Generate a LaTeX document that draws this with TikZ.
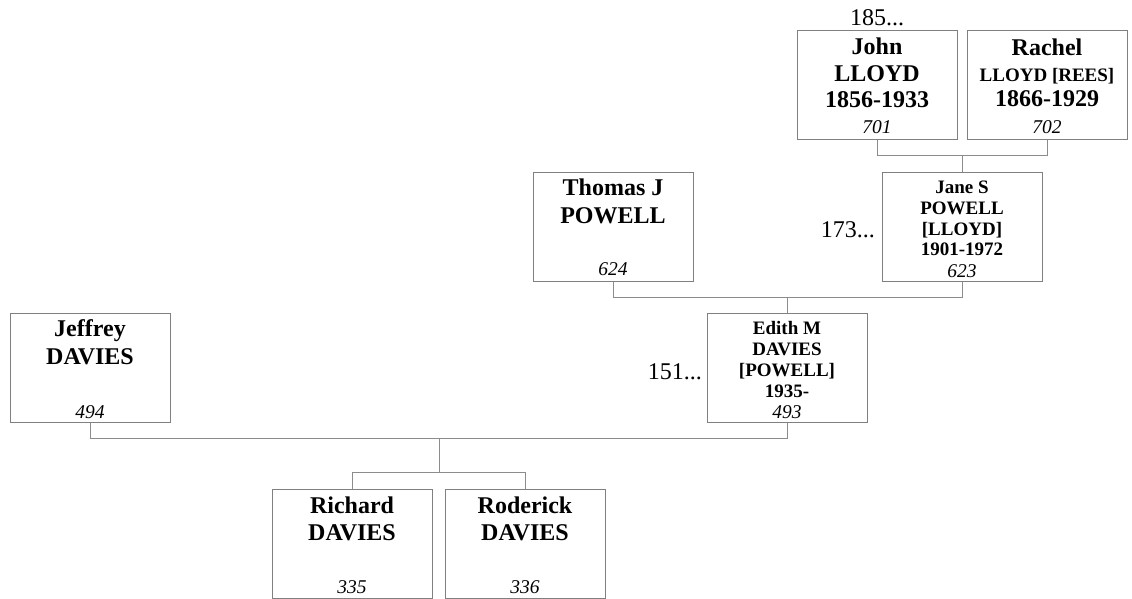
\documentclass[tikz,border=0pt]{standalone}
\usepackage{fontspec}
\setmainfont{Liberation Serif}
\definecolor{boxgray}{RGB}{128,128,128}
\definecolor{linegray}{RGB}{140,140,140}
\newcommand{\tline}[5]{\node[#4,anchor=base,inner sep=0pt] (#1) at (#2,#3) {#5};}
\tikzset{
  person/.style={draw=boxgray,line width=1pt,minimum width=160pt,minimum height=109pt,inner sep=0pt},
  bA/.style={font=\fontsize{24}{28}\selectfont\bfseries},
  bB/.style={font=\fontsize{19}{22}\selectfont\bfseries},
  num/.style={font=\fontsize{19.5}{22}\selectfont\itshape},
  lab/.style={font=\fontsize{24}{28}\selectfont},
  conn/.style={draw=linegray,line width=1pt}
}
\begin{document}
\begin{tikzpicture}[x=1pt,y=-1pt]
\useasboundingbox (0,0) rectangle (1132,599);
% boxes
\node[person] (john) at (877,85.5) {};
\node[person] (rachel) at (1047,85.5) {};
\node[person] (thomas) at (613,226.5) {};
\node[person] (jane) at (962,226.5) {};
\node[person] (jeffrey) at (90,368) {};
\node[person] (edith) at (787,368) {};
\node[person] (richard) at (352,543.5) {};
\node[person] (roderick) at (525,543.5) {};
% John
\tline{john1}{877}{55}{bA}{John}
\tline{john2}{877}{82}{bA}{LLOYD}
\tline{john3}{877}{108}{bA}{1856-1933}
\tline{john4}{877}{134}{num}{701}
\tline{johnlab}{877}{26}{lab}{185...}
% Rachel
\tline{rachel1}{1047}{56}{bA}{Rachel}
\tline{rachel2}{1047}{82}{bB}{LLOYD [REES]}
\tline{rachel3}{1047}{107}{bA}{1866-1929}
\tline{rachel4}{1047}{134}{num}{702}
% Thomas
\tline{thomas1}{613}{195}{bA}{Thomas J}
\tline{thomas2}{613}{223}{bA}{POWELL}
\tline{thomas3}{613}{275}{num}{624}
% Jane
\tline{jane1}{962}{193}{bB}{Jane S}
\tline{jane2}{962}{214}{bB}{POWELL}
\tline{jane3}{962}{235}{bB}{[LLOYD]}
\tline{jane4}{962}{255}{bB}{1901-1972}
\tline{jane5}{962}{277}{num}{623}
\node[lab,anchor=base east,inner sep=0pt] (janelab) at (875,237) {173...};
% Jeffrey
\tline{jeff1}{90}{336}{bA}{Jeffrey}
\tline{jeff2}{90}{364}{bA}{DAVIES}
\tline{jeff3}{90}{418}{num}{494}
% Edith
\tline{edith1}{787}{334}{bB}{Edith M}
\tline{edith2}{787}{355}{bB}{DAVIES}
\tline{edith3}{787}{376}{bB}{[POWELL]}
\tline{edith4}{787}{397}{bB}{1935-}
\tline{edith5}{787}{418}{num}{493}
\node[lab,anchor=base east,inner sep=0pt] (edithlab) at (702,379) {151...};
% Richard
\tline{rich1}{352}{513}{bA}{Richard}
\tline{rich2}{352}{540}{bA}{DAVIES}
\tline{rich3}{352}{593}{num}{335}
% Roderick
\tline{rod1}{525}{513}{bA}{Roderick}
\tline{rod2}{525}{540}{bA}{DAVIES}
\tline{rod3}{525}{593}{num}{336}
% connectors
\coordinate (m1) at (962,155);
\coordinate (m2) at (787,297);
\coordinate (m3) at (439,438);
\coordinate (m4) at (439,473);
\draw[conn] (john.south) -- ++(0,15) -| (rachel.south);
\draw[conn] (m1) -- (jane.north);
\draw[conn] (thomas.south) -- ++(0,16) -| (jane.south);
\draw[conn] (m2) -- (edith.north);
\draw[conn] (jeffrey.south) -- ++(0,15) -| (edith.south);
\draw[conn] (m3) -- (m4);
\draw[conn] (richard.north) -- ++(0,-16) -| (roderick.north);
\end{tikzpicture}
\end{document}
